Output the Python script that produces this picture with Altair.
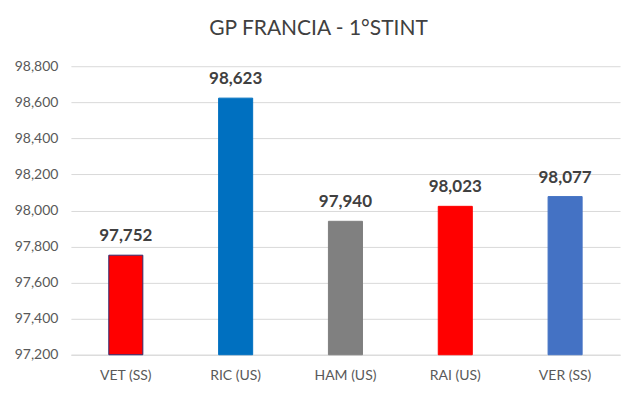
import altair as alt
import pandas as pd

drivers = ["VET (SS)", "RIC (US)", "HAM (US)", "RAI (US)", "VER (SS)"]
times = [97.752, 98.623, 97.940, 98.023, 98.077]
colors = ["#FF0000", "#0070C0", "#808080", "#FF0000", "#4472C4"]
strokes = ["#2E2A6E", "#0070C0", "#808080", "#FF0000", "#4472C4"]
y_ticks = [97.2, 97.4, 97.6, 97.8, 98.0, 98.2, 98.4, 98.6, 98.8]
y_base = 97.2

df = pd.DataFrame({"driver": drivers, "time": times, "color": colors, "stroke": strokes,
                   "base": [y_base] * len(drivers)})

FONT = "Lato"

x = alt.X("driver:N", sort=drivers, title=None,
          scale=alt.Scale(paddingInner=0.69, paddingOuter=0.345),
          axis=alt.Axis(labelAngle=0, labelFont=FONT, labelFontSize=14, labelColor="#595959",
                        labelPadding=14, ticks=False, domain=True, domainColor="#D9D9D9", grid=False))
y = alt.Y("time:Q", title=None,
          scale=alt.Scale(domain=[97.2, 98.8], nice=False, zero=False),
          axis=alt.Axis(values=y_ticks, format=".3f", labelFont=FONT, labelFontSize=14,
                        labelColor="#595959", labelPadding=13, ticks=False, domain=False,
                        labelOverlap=False, gridColor="#D9D9D9", gridWidth=1))

bars = alt.Chart(df).mark_bar(strokeWidth=1).encode(
    x=x, y=y, y2="base:Q",
    color=alt.Color("color:N", scale=None),
    stroke=alt.Stroke("stroke:N", scale=None),
)
labels = alt.Chart(df).mark_text(font=FONT, fontSize=17, fontWeight="bold", color="#404040",
                                 baseline="alphabetic", dy=-14).encode(
    x=x, y=y, text=alt.Text("time:Q", format=".3f"))

chart = (bars + labels).properties(
    width=550, height=289,
    padding={"left": 63, "top": 58, "right": 12, "bottom": 30},
    autosize=alt.AutoSizeParams(type="none"),
    title=alt.TitleParams("GP FRANCIA - 1°STINT", font=FONT, fontSize=21, fontWeight="normal",
                          color="#404040", anchor="middle", dx=-27, offset=20),
).configure_view(stroke=None)

chart.save("out.html", embed_options={"renderer": "svg", "actions": False,
                                      "formatLocale": {"decimal": ",", "thousands": ".",
                                                       "grouping": [3], "currency": ["", "€"]}})
